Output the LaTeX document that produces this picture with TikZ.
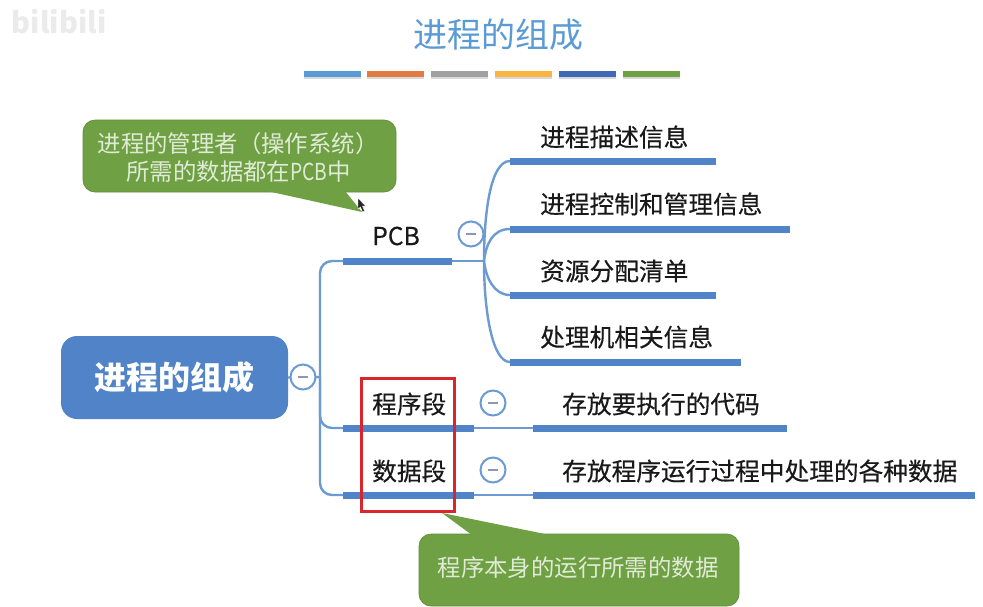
\documentclass[tikz,border=0pt]{standalone}
\usepackage{fontspec}
\setmainfont{Noto Sans CJK SC}
\newfontfamily\labfont[FakeBold=0.35]{Noto Sans CJK SC}
\definecolor{mblue}{HTML}{5083C8}
\definecolor{lblue}{HTML}{6C9BD2}
\definecolor{tblue}{HTML}{5B9BD5}
\definecolor{mgreen}{HTML}{70A044}
\definecolor{dgreen}{HTML}{5F8F3A}
\definecolor{gtext}{HTML}{E0EBD6}
\definecolor{redb}{HTML}{D9262C}
\definecolor{mgray}{HTML}{8E96B8}
\tikzset{
  barnode/.style={fill=mblue,draw=none,inner sep=0pt,minimum height=7pt,anchor=west},
  deco/.style={draw=none,inner sep=0pt,minimum width=57pt,minimum height=6pt},
  wire/.style={draw=lblue,line width=2.4pt},
  minus/.style={circle,draw=lblue,fill=white,line width=2pt,minimum size=25pt,inner sep=0pt},
  lab/.style={font=\labfont\fontsize{24.7}{28}\selectfont,text=black!90,inner sep=0pt,anchor=west},
  note/.style={font=\fontsize{23.4}{28}\selectfont,text=gtext,inner sep=0pt,align=center},
  callout/.style={fill=mgreen,draw=dgreen,line width=0.7pt,rounded corners=12pt,inner sep=0pt,minimum height=72pt}
}
\begin{document}
\begin{tikzpicture}[x=1pt,y=-1pt]
\useasboundingbox (0,0) rectangle (983,606);
\fill[white] (0,0) rectangle (983,606);
\node[font=\fontsize{29}{29}\selectfont\bfseries,text=black!8,inner sep=0pt] (wm) at (59,22) {bilibili};
\node[font=\fontsize{34}{34}\selectfont,text=tblue,inner sep=0pt] (title) at (498,35) {进程的组成};
% decorative bars
\foreach \n/\x/\c in {a/332/5B9BD5,b/395/E07B42,c/459.5/A0A0A0,d/523.5/F9B53F,e/587/3F68B5,f/651/70A044}{
  \definecolor{tmpc}{HTML}{\c}
  \fill[black!15] (\x-28.5,72.5) rectangle (\x+28.5,78.5);
  \node[deco,fill=tmpc] (deco\n) at (\x,74) {};
}
% callouts
\node[callout,minimum width=313pt] (n1box) at (239.5,156) {};
\fill[mgreen] (267,191) -- (362,212) -- (345,191) -- cycle;
\node[note,anchor=center] (n1) at (238,157) {进程的管理者（操作系统）\\\hspace*{1pt}所需的数据都在\scalebox{0.82}[1]{PCB}中};
\node[callout,minimum width=320pt] (n2box) at (579,570) {};
\fill[mgreen] (472,535) -- (442,513) -- (550,535) -- cycle;
\node[note,anchor=center] (n2) at (578,568) {程序本身的运行所需的数据};
% central
\node[fill=mblue,rounded corners=16pt,minimum width=227pt,minimum height=83pt,inner sep=0pt,text=white,font=\fontsize{32}{32}\selectfont\bfseries] (root) at (174.5,377.5) {进程的组成};
% bars
\node[barnode,minimum width=109pt] (pcb) at (343,261) {};
\node[barnode,minimum width=131pt] (cxd) at (343,428) {};
\node[barnode,minimum width=131pt] (sjd) at (343,495) {};
\node[barnode,minimum width=206pt] (c1) at (510,161) {};
\node[barnode,minimum width=280pt] (c2) at (510,229) {};
\node[barnode,minimum width=206pt] (c3) at (510,295) {};
\node[barnode,minimum width=231pt] (c4) at (510,362) {};
\node[barnode,minimum width=254pt] (d1) at (533,428) {};
\node[barnode,minimum width=442pt] (d2) at (533,495) {};
\coordinate (hub) at (484,261);
\coordinate (trunk) at (320,377);
% wires
\draw[wire] (root.east) -- (trunk);
\draw[wire,rounded corners=12pt] (trunk) |- (pcb.west);
\draw[wire,rounded corners=12pt] (trunk) |- (cxd.west);
\draw[wire,rounded corners=12pt] (trunk) |- (sjd.west);
\draw[wire] (pcb.east) -- (hub);
\draw[wire] (hub) .. controls (484,215) and (490,161) .. (c1.west);
\draw[wire] (hub) .. controls (486,245) and (492,229) .. (c2.west);
\draw[wire] (hub) .. controls (486,278) and (494,295) .. (c3.west);
\draw[wire] (hub) .. controls (484,310) and (492,362) .. (c4.west);
\draw[wire] (cxd.east) -- (d1.west);
\draw[wire] (sjd.east) -- (d2.west);
% minus buttons
\foreach \n/\x/\y in {m0/303/377,m1/471/234,m2/493/403,m3/493/470}{
  \node[minus] (\n) at (\x,\y) {};
  \draw[mgray,line width=2.2pt] ([xshift=-5pt]\n.center) -- ([xshift=5pt]\n.center);
}
% labels
\node[lab] (lpcb) at (372,236) {PCB};
\node[lab] (lcxd) at (372,404) {程序段};
\node[lab] (lsjd) at (372,471) {数据段};
\node[lab] (t1) at (540,137) {进程描述信息};
\node[lab] (t2) at (540,204) {进程控制和管理信息};
\node[lab] (t3) at (540,271) {资源分配清单};
\node[lab] (t4) at (540,337) {处理机相关信息};
\node[lab] (t5) at (562,404) {存放要执行的代码};
\node[lab] (t6) at (562,471) {存放程序运行过程中处理的各种数据};
% red box
\node[draw=redb,line width=2.2pt,minimum width=93pt,minimum height=133pt,inner sep=0pt] (red) at (408,445) {};
% mouse pointer
\fill[black!85,draw=white,line width=0.4pt] (358,198) -- (358,209) -- (360.5,207) -- (362.5,212) -- (364.5,211) -- (362.5,206) -- (365.5,206) -- cycle;
\end{tikzpicture}
\end{document}
